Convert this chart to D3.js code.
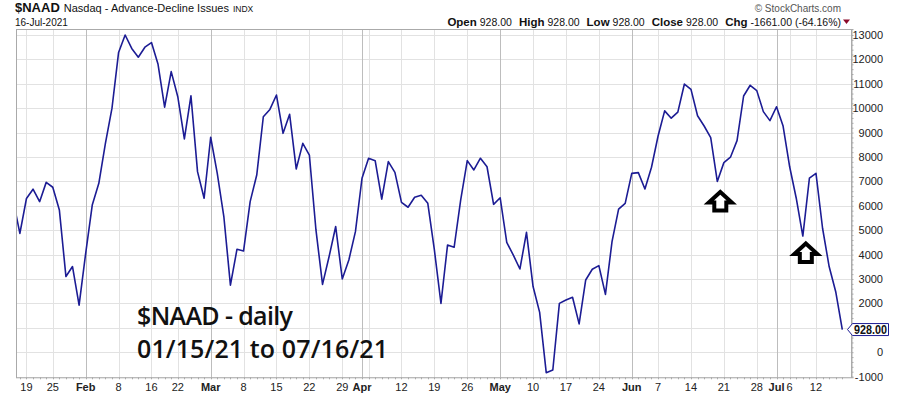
<!DOCTYPE html>
<html>
<head>
<meta charset="utf-8">
<script src="https://cdn.jsdelivr.net/npm/d3@7"></script>
<style>
  body { margin: 0; background: #fff; }
  svg { display: block; font-family: Arial, "Liberation Sans", sans-serif; }
</style>
</head>
<body>
<div id="chart"></div>
<script>
// trading days, 14-Jan-2021 .. 16-Jul-2021 (first one is clipped at the left edge)
var dates = [
  "01-14","01-15","01-19","01-20","01-21","01-22","01-25","01-26","01-27","01-28","01-29",
  "02-01","02-02","02-03","02-04","02-05","02-08","02-09","02-10","02-11","02-12",
  "02-16","02-17","02-18","02-19","02-22","02-23","02-24","02-25","02-26",
  "03-01","03-02","03-03","03-04","03-05","03-08","03-09","03-10","03-11","03-12",
  "03-15","03-16","03-17","03-18","03-19","03-22","03-23","03-24","03-25","03-26",
  "03-29","03-30","03-31","04-01","04-05","04-06","04-07","04-08","04-09",
  "04-12","04-13","04-14","04-15","04-16","04-19","04-20","04-21","04-22","04-23",
  "04-26","04-27","04-28","04-29","04-30","05-03","05-04","05-05","05-06","05-07",
  "05-10","05-11","05-12","05-13","05-14","05-17","05-18","05-19","05-20","05-21",
  "05-24","05-25","05-26","05-27","05-28","06-01","06-02","06-03","06-04",
  "06-07","06-08","06-09","06-10","06-11","06-14","06-15","06-16","06-17","06-18",
  "06-21","06-22","06-23","06-24","06-25","06-28","06-29","06-30","07-01","07-02",
  "07-06","07-07","07-08","07-09","07-12","07-13","07-14","07-15","07-16"
];

// net advancing issues
var naad = [
  6200, 4870, 6300, 6680, 6170, 6960, 6760, 5830, 3100, 3510, 1930,
  4050, 6030, 6920, 8560, 10000, 12280, 13000, 12450, 12090, 12500,
  12690, 11800, 10040, 11500, 10470, 8740, 10510, 7400, 6310,
  8810, 7330, 5560, 2750, 4220, 4150, 6170, 7260, 9650, 9950,
  10540, 8970, 9750, 7510, 8560, 8080, 5010, 2780, 3920, 5150,
  3000, 3780, 4940, 7130, 7950, 7850, 6270, 7810, 7370,
  6140, 5940, 6350, 6430, 6100, 4190, 2000, 4390, 4300, 6240,
  7850, 7470, 7950, 7600, 6060, 6330, 4500, 3980, 3410, 4910,
  2690, 1630, -840, -730, 2000, 2140, 2250, 1160, 2960, 3400,
  3550, 2370, 4530, 5860, 6100, 7330, 7360, 6690, 7580,
  8860, 9890, 9590, 9840, 10990, 10770, 9690, 9270, 8790, 7000,
  7770, 7990, 8670, 10500, 10940, 10720, 9860, 9490, 10060, 9270,
  7600, 6310, 4760, 7130, 7330, 5080, 3510, 2480, 928
];

// bottom axis labels: [date, text, month start?]
var xTicks = [
  ["01-19","19",false],["01-25","25",false],["02-01","Feb",true],["02-08","8",false],
  ["02-16","16",false],["02-22","22",false],["03-01","Mar",true],["03-08","8",false],
  ["03-15","15",false],["03-22","22",false],["03-29","29",false],["04-01","Apr",true],
  ["04-05","",false],["04-12","12",false],["04-19","19",false],["04-26","26",false],
  ["05-03","May",true],["05-10","10",false],["05-17","17",false],["05-24","24",false],
  ["06-01","Jun",true],["06-07","7",false],["06-14","14",false],["06-21","21",false],
  ["06-28","28",false],["07-01","Jul",true],["07-06","6",false],["07-12","12",false]
];
var yTicks = [-1000, 0, 1000, 2000, 3000, 4000, 5000, 6000, 7000, 8000, 9000, 10000, 11000, 12000, 13000];

// arrows under the two lows
var arrowDates = ["06-18", "07-08"];

var width = 900, height = 396;
var pLeft = 16, pRight = 851, pTop = 29, pBottom = 377.3;

var svg = d3.select("#chart").append("svg")
    .attr("width", width).attr("height", height);

var x = d3.scaleLinear().domain([0, dates.length - 1]).range([13.3, 842.3]);
var y = d3.scaleLinear().domain([-1029, 13246]).range([pBottom, pTop]);
var xi = function(d){ return x(dates.indexOf(d)); };

var last = naad[naad.length - 1];
var ty = y(last);

// grid
var grid = svg.append("g");
grid.selectAll("line.h").data(yTicks).enter().append("line")
    .attr("x1", pLeft).attr("x2", pRight)
    .attr("y1", function(d){ return Math.round(y(d)) + 0.5; })
    .attr("y2", function(d){ return Math.round(y(d)) + 0.5; })
    .attr("stroke", "#e2e2e2");
grid.selectAll("line.v").data(xTicks).enter().append("line")
    .attr("x1", function(d){ return Math.round(xi(d[0])) + 0.5; })
    .attr("x2", function(d){ return Math.round(xi(d[0])) + 0.5; })
    .attr("y1", pTop).attr("y2", pBottom)
    .attr("stroke", function(d){ return d[2] ? "#bdbdbd" : "#e2e2e2"; });

// frame
svg.append("rect").attr("x", pLeft + 0.5).attr("y", pTop + 0.5)
    .attr("width", pRight - pLeft).attr("height", pBottom - pTop)
    .attr("fill", "none").attr("stroke", "#aaaaaa");

// right axis with small ticks
var yAxis = d3.axisRight(y).tickValues(d3.range(-1000, 13001, 200))
    .tickSize(2).tickFormat("");
svg.append("g").attr("transform", "translate(" + (pRight + 0.5) + ",0)")
    .call(yAxis)
    .call(function(g){ g.select(".domain").attr("stroke", "#aaa"); g.selectAll("line").attr("stroke", "#aaa"); });
// labels hidden behind the last-value tag are left out
svg.append("g").selectAll("text")
    .data(yTicks.filter(function(d){ return Math.abs(y(d) - ty) > 9; }))
    .enter().append("text")
    .attr("x", 883).attr("y", function(d){ return y(d) + 4; })
    .attr("text-anchor", "end").attr("font-size", 11).attr("fill", "#222")
    .text(function(d){ return d; });

// bottom day ticks and labels
svg.append("g").selectAll("line").data(dates.slice(1)).enter().append("line")
    .attr("x1", function(d){ return Math.round(xi(d)) + 0.5; })
    .attr("x2", function(d){ return Math.round(xi(d)) + 0.5; })
    .attr("y1", pBottom).attr("y2", pBottom + 2)
    .attr("stroke", "#aaa");
svg.append("g").selectAll("text").data(xTicks.filter(function(d){ return d[1] != ""; })).enter().append("text")
    .attr("x", function(d){ return xi(d[0]); }).attr("y", 390.5)
    .attr("text-anchor", "middle").attr("font-size", 11)
    .attr("font-weight", function(d){ return d[2] ? "bold" : "normal"; })
    .attr("fill", "#222")
    .text(function(d){ return d[1]; });

// clipped line
svg.append("clipPath").attr("id", "plot").append("rect")
    .attr("x", pLeft + 1).attr("y", pTop + 1).attr("width", pRight - pLeft - 1).attr("height", pBottom - pTop - 1);
var line = d3.line().x(function(d, i){ return x(i); }).y(function(d){ return y(d); });
svg.append("path").datum(naad)
    .attr("clip-path", "url(#plot)")
    .attr("d", line)
    .attr("fill", "none").attr("stroke", "#1c1c94").attr("stroke-width", 1.6)
    .attr("stroke-linejoin", "round");

// last value tag
svg.append("path")
    .attr("d", "M847.5," + ty + " L852.5," + (ty - 6) + " L888.5," + (ty - 6) + " L888.5," + (ty + 6) + " L852.5," + (ty + 6) + " Z")
    .attr("fill", "#fff").attr("stroke", "#1c1c94");
svg.append("text").attr("x", 854).attr("y", ty + 4.5)
    .attr("font-size", 12).attr("font-weight", "bold")
    .attr("textLength", 33).attr("lengthAdjust", "spacingAndGlyphs")
    .attr("fill", "#111").text(last.toFixed(2));

// arrows
var arrow = "M0,2.5 L11.5,13 L6,13 L6,21 L-6,21 L-6,13 L-11.5,13 Z";
svg.append("g").selectAll("path").data(arrowDates).enter().append("path")
    .attr("transform", function(d){
        var i = dates.indexOf(d);
        var off = i == dates.indexOf("06-18") ? 8 : 5;
        return "translate(" + (x(i) + 3) + "," + (y(naad[i]) + off) + ")";
    })
    .attr("d", arrow)
    .attr("fill", "#fff").attr("stroke", "#000").attr("stroke-width", 4)
    .attr("stroke-linejoin", "miter");

// annotation
var note = svg.append("g").attr("font-family", "'Open Sans', sans-serif")
    .attr("font-weight", 600).attr("font-size", 25).attr("fill", "#111");
note.append("text").attr("x", 137).attr("y", 325).attr("textLength", 156).text("$NAAD - daily");
note.append("text").attr("x", 137).attr("y", 358).attr("textLength", 251).text("01/15/21 to 07/16/21");

// header
var h1 = svg.append("text").attr("x", 15).attr("y", 12).attr("fill", "#111");
h1.append("tspan").attr("font-size", 13).attr("font-weight", "bold").text("$NAAD");
h1.append("tspan").attr("font-size", 11).attr("dx", 4).text("Nasdaq - Advance-Decline Issues");
h1.append("tspan").attr("font-size", 8.5).attr("dx", 4).text("INDX");
svg.append("text").attr("x", 15).attr("y", 26).attr("font-size", 10).attr("fill", "#111").text("16-Jul-2021");

svg.append("text").attr("x", 841).attr("y", 12).attr("text-anchor", "end")
    .attr("font-size", 10).attr("fill", "#555").text("\u00a9 StockCharts.com");

var quote = [["Open", "928.00"], ["High", "928.00"], ["Low", "928.00"], ["Close", "928.00"], ["Chg", "-1661.00 (-64.16%)"]];
var h2 = svg.append("text").attr("x", 841).attr("y", 26).attr("text-anchor", "end").attr("fill", "#111");
quote.forEach(function(q, k){
    h2.append("tspan").attr("font-size", 11.5).attr("font-weight", "bold").attr("dx", k ? 7 : 0).text(q[0]);
    h2.append("tspan").attr("font-size", 10.5).attr("dx", 3).text(q[1]);
});
svg.append("path").attr("d", "M843,19.5 L850,19.5 L846.5,24 Z").attr("fill", "#8b0a2a");
</script>
</body>
</html>
